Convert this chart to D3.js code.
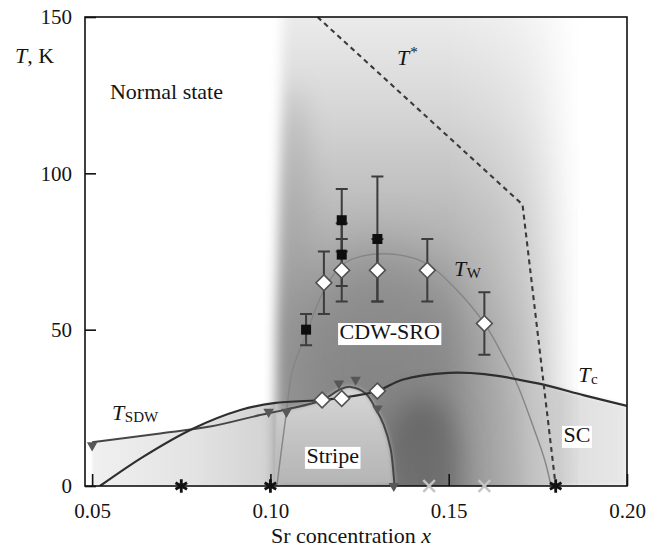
<!DOCTYPE html>
<html>
<head>
<meta charset="utf-8">
<script src="https://cdn.jsdelivr.net/npm/d3@7/dist/d3.min.js"></script>
<style>
  html, body { margin: 0; padding: 0; background: #fff; }
  svg { display: block; }
  svg text { font-family: "Liberation Serif", "Times New Roman", Times, serif; fill: #141414; }
</style>
</head>
<body>
<svg id="chart" width="657" height="547"></svg>
<script>
// ---- Axis ticks ----
const xTicks = [0.05, 0.10, 0.15, 0.20];
const yTicks = [0, 50, 100, 150];

// ---- Phase boundaries: [Sr concentration x, T in K] ----
const tStarLine = [[0.1132, 150], [0.1707, 90], [0.1800, 0]];
const tWCurve = [[0.1018, 0], [0.1043, 22], [0.1062, 37], [0.1101, 48.7], [0.1150, 62.6],
  [0.1200, 70.6], [0.1257, 73.5], [0.1355, 74], [0.1440, 71], [0.1520, 63], [0.1600, 52],
  [0.1655, 41], [0.1694, 32], [0.1740, 18], [0.1770, 8], [0.1787, 0]];
const tcCurve = [[0.0522, 0], [0.0644, 9.4], [0.0784, 18.4], [0.0916, 24.3], [0.1010, 26.5],
  [0.1145, 27.5], [0.1200, 28.2], [0.1300, 30.4], [0.1370, 34], [0.1500, 36.2], [0.1600, 35.8],
  [0.1750, 32.8], [0.1880, 29], [0.2000, 25.6]];
const tSdwCurve = [[0.0500, 14], [0.0691, 16.8], [0.0831, 19], [0.0971, 22.7], [0.1045, 24.5],
  [0.1145, 27.5], [0.1197, 31], [0.1225, 31.7], [0.1267, 29.6], [0.1295, 24.8], [0.1318, 19.5],
  [0.1337, 12], [0.1346, 3], [0.1348, 0]];

// ---- Measured points: [x, T, error] ----
const cdwSquares = [[0.110, 50, 5], [0.120, 85, 10], [0.120, 74, 10], [0.130, 79, 20]];
const tWDiamonds = [[0.115, 65, 10], [0.120, 69, 10], [0.130, 69, 10], [0.144, 69, 10], [0.160, 52, 10]];
const tcDiamonds = [[0.1145, 27.5], [0.120, 28], [0.130, 30.4]];
const sdwTriangles = [[0.050, 13], [0.0995, 23.7], [0.1045, 23.7], [0.1192, 32.8], [0.1239, 34],
  [0.130, 24.8], [0.1346, 0]];
const blackStars = [0.075, 0.100, 0.180];
const greyCrosses = [0.1445, 0.160];

// ---- Shaded regions ----
// left boundary of the pseudogap band, [x, T]; its right side fades out
const bandLeftEdge = [[0.1040, 170], [0.1026, 110], [0.1015, 50], [0.1012, -20]];
const bandFadeStops = [[0.150, 1], [0.162, 0.85], [0.170, 0.68], [0.176, 0.45], [0.181, 0.2], [0.186, 0]];
// superconducting dome fill beyond the band: [x, opacity]
const scFadeStops = [[0.172, 0], [0.181, 1], [0.200, 1]];
const stripeExtent = [0.1018, 0.136];

const W = 657, H = 547;
const margin = { top: 17, right: 30, bottom: 61, left: 85 };
const x = d3.scaleLinear().domain([0.048, 0.2]).range([margin.left, W - margin.right]);
const y = d3.scaleLinear().domain([0, 150]).range([H - margin.bottom, margin.top]);
const [x0, x1] = x.range();
const [y0, y1] = y.range();
const FONT = '"Liberation Serif", "Times New Roman", Times, serif';

const svg = d3.select('#chart');
const defs = svg.append('defs');

function clipRect(id, xa, xb) {
  defs.append('clipPath').attr('id', id).append('rect')
    .attr('x', xa).attr('y', y1).attr('width', xb - xa).attr('height', y0 - y1);
}
clipRect('plotClip', x0, x1);
clipRect('leftClip', x0, x(0.1014));
clipRect('stripeClip', x(stripeExtent[0]), x(stripeExtent[1]));

function blur(id, sx, sy) {
  defs.append('filter').attr('id', id)
    .attr('x', '-60%').attr('y', '-60%').attr('width', '220%').attr('height', '220%')
    .append('feGaussianBlur').attr('stdDeviation', `${sx} ${sy === undefined ? sx : sy}`);
}
blur('b1', 1.2); blur('b2', 2); blur('band', 6, 3); blur('soft', 12); blur('wide', 26); blur('mid', 14);

function linGrad(id, a, b, stops) {
  const g = defs.append('linearGradient').attr('id', id).attr('gradientUnits', 'userSpaceOnUse')
    .attr('x1', a[0]).attr('y1', a[1]).attr('x2', b[0]).attr('y2', b[1]);
  stops.forEach(([o, c, op]) => g.append('stop').attr('offset', o).attr('stop-color', c)
    .attr('stop-opacity', op === undefined ? 1 : op));
}
linGrad('bandGrad', [0, y1], [0, y0], [[0, '#ebebeb'], [0.2, '#d6d6d6'], [0.42, '#bababa'],
  [0.66, '#a2a2a2'], [0.85, '#969696'], [1, '#929292']]);
linGrad('leftGrad', [x(0.05), 0], [x(0.10), 0], [[0, '#f0f0f0'], [0.6, '#e2e2e2'], [1, '#d2d2d2']]);
linGrad('stripeGrad', [0, y(32)], [0, y(0)], [[0, '#d8d8d8'], [0.5, '#c4c4c4'], [1, '#b4b4b4']]);

const sx0 = scFadeStops[0][0], sx1 = scFadeStops[scFadeStops.length - 1][0];
linGrad('scGrad', [x(sx0), 0], [x(sx1), 0],
  scFadeStops.map(([v, op], i) => [(v - sx0) / (sx1 - sx0), i < 2 ? '#dcdcdc' : '#e8e8e8', op]));

// mask that fades the band towards the overdoped side
const fx0 = bandFadeStops[0][0], fx1 = bandFadeStops[bandFadeStops.length - 1][0];
linGrad('bandFade', [x(fx0), 0], [x(fx1), 0], bandFadeStops.map(([v, a]) => {
  const g = Math.round(255 * a);
  return [(v - fx0) / (fx1 - fx0), `rgb(${g},${g},${g})`];
}));

const curve = d3.curveCatmullRom.alpha(0.5);
const line = d3.line().x(d => x(d[0])).y(d => y(d[1])).curve(curve);
const poly = d3.line().x(d => x(d[0])).y(d => y(d[1]));
const areaUnder = d3.area().x(d => x(d[0])).y0(y(0)).y1(d => y(d[1])).curve(curve);

const bandMask = defs.append('mask').attr('id', 'bandMask').attr('maskUnits', 'userSpaceOnUse')
  .attr('x', x0 - 20).attr('y', y1 - 60).attr('width', x1 - x0 + 40).attr('height', y0 - y1 + 120);
const maskShape = [...bandLeftEdge, [0.195, -20], [0.195, 170]];
bandMask.append('path').datum(maskShape).attr('d', d => poly(d) + 'Z')
  .attr('fill', 'url(#bandFade)').attr('filter', 'url(#band)');

// ---- Background shading ----
const shade = svg.append('g').attr('clip-path', 'url(#plotClip)');

const left = shade.append('g').attr('clip-path', 'url(#leftClip)').append('g').attr('filter', 'url(#b1)');
left.append('path').datum(tSdwCurve).attr('d', areaUnder).attr('fill', 'url(#leftGrad)');
left.append('path').datum(tcCurve).attr('d', areaUnder).attr('fill', 'url(#leftGrad)');

shade.append('path').datum(tcCurve).attr('d', areaUnder)
  .attr('fill', 'url(#scGrad)').attr('filter', 'url(#b2)');

const band = shade.append('g').attr('mask', 'url(#bandMask)');
band.append('rect').attr('x', x0).attr('y', y1 - 40).attr('width', x1 - x0).attr('height', y0 - y1 + 80)
  .attr('fill', 'url(#bandGrad)');
// darker core of the charge-ordered region
band.append('ellipse').attr('cx', x(0.131)).attr('cy', y(42)).attr('rx', 90).attr('ry', 110)
  .attr('fill', '#6a6a6a').attr('opacity', 0.42).attr('filter', 'url(#wide)');
// darker strip along the left side of the band
band.append('ellipse').attr('cx', x(0.107)).attr('cy', y(80)).attr('rx', 16).attr('ry', 150)
  .attr('fill', '#8a8a8a').attr('opacity', 0.3).attr('filter', 'url(#soft)');
// dark pocket next to the stripe dome
band.append('ellipse').attr('cx', x(0.143)).attr('cy', y(6)).attr('rx', 40).attr('ry', 70)
  .attr('fill', '#4e4e4e').attr('opacity', 0.5).attr('filter', 'url(#mid)');

shade.append('g').attr('clip-path', 'url(#stripeClip)').append('path').datum(tSdwCurve)
  .attr('d', areaUnder).attr('fill', 'url(#stripeGrad)').attr('filter', 'url(#b2)');

// ---- Boundary lines ----
const lines = svg.append('g').attr('clip-path', 'url(#plotClip)').attr('fill', 'none');
lines.append('path').datum(tWCurve).attr('d', line).attr('stroke', '#858585').attr('stroke-width', 1.4);
lines.append('path').datum(tSdwCurve).attr('d', line).attr('stroke', '#464646').attr('stroke-width', 2);
lines.append('path').datum(tcCurve).attr('d', line).attr('stroke', '#2e2e2e').attr('stroke-width', 2.2);
lines.append('path').datum(tStarLine).attr('d', poly)
  .attr('stroke', '#3a3a3a').attr('stroke-width', 2.1).attr('stroke-dasharray', '5 4');

// ---- Error bars ----
const capW = 6;
const eb = svg.append('g').attr('stroke', '#3c3c3c').attr('stroke-width', 2).attr('fill', 'none');
[...tWDiamonds, ...cdwSquares].forEach(([cx, t, e]) => {
  const px = x(cx), top = y(t + e), bot = y(t - e);
  eb.append('path').attr('d', `M${px},${top}V${bot}M${px - capW},${top}H${px + capW}M${px - capW},${bot}H${px + capW}`);
});

// ---- Frame and axes ----
svg.append('rect').attr('x', x0).attr('y', y1).attr('width', x1 - x0).attr('height', y0 - y1)
  .attr('fill', 'none').attr('stroke', '#111').attr('stroke-width', 1.6);

const styleAxis = g => {
  g.select('.domain').remove();
  g.attr('font-size', 21).attr('font-family', FONT);
  g.selectAll('.tick line').attr('stroke', '#111').attr('stroke-width', 1.6);
  g.selectAll('.tick text').attr('fill', '#1a1a1a');
};
svg.append('g').attr('transform', `translate(${x0},0)`)
  .call(d3.axisLeft(y).tickValues(yTicks).tickSize(-11).tickPadding(13).tickFormat(d3.format('d')))
  .call(styleAxis);
svg.append('g').attr('transform', `translate(0,${y0})`)
  .call(d3.axisBottom(x).tickValues(xTicks).tickSize(-12).tickPadding(17).tickFormat(d3.format('.2f')))
  .call(styleAxis);

// ---- Markers ----
const marks = svg.append('g');
const sym = (type, size) => d3.symbol().type(type).size(size)();
marks.selectAll('.tri').data(sdwTriangles).join('path').attr('class', 'tri')
  .attr('d', sym(d3.symbolTriangle, 48))
  .attr('transform', d => `translate(${x(d[0])},${y(d[1])}) rotate(180)`)
  .attr('fill', '#575757');
marks.selectAll('.dia').data([...tWDiamonds, ...tcDiamonds]).join('path').attr('class', 'dia')
  .attr('d', sym(d3.symbolSquare, 125))
  .attr('transform', d => `translate(${x(d[0])},${y(d[1])}) rotate(45)`)
  .attr('fill', '#fff').attr('stroke', '#505050').attr('stroke-width', 1.6);
marks.selectAll('.sq').data(cdwSquares).join('path').attr('class', 'sq')
  .attr('d', sym(d3.symbolSquare, 100))
  .attr('transform', d => `translate(${x(d[0])},${y(d[1])})`)
  .attr('fill', '#0e0e0e');
marks.selectAll('.cross').data(greyCrosses).join('path').attr('class', 'cross')
  .attr('d', sym(d3.symbolTimes, 90))
  .attr('transform', d => `translate(${x(d)},${y(0)})`)
  .attr('fill', 'none').attr('stroke', '#c4c4c4').attr('stroke-width', 2.4);
marks.selectAll('.star').data(blackStars).join('path').attr('class', 'star')
  .attr('d', sym(d3.symbolAsterisk, 125))
  .attr('transform', d => `translate(${x(d)},${y(0)})`)
  .attr('fill', 'none').attr('stroke', '#111').attr('stroke-width', 2.8);

// ---- Text ----
const txt = svg.append('g').attr('font-size', 22).attr('font-family', FONT);
const addText = (parent, px, py) => parent.append('text').attr('x', px).attr('y', py).attr('fill', '#141414');

// axis titles
const yt = addText(txt, 15, 63);
yt.append('tspan').attr('font-style', 'italic').text('T');
yt.append('tspan').text(', K');
const xt = addText(txt, 351, 543).attr('text-anchor', 'middle');
xt.append('tspan').text('Sr concentration ');
xt.append('tspan').attr('font-style', 'italic').text('x');

// region labels
function boxed(str, cx, t) {
  const g = txt.append('g');
  const tx = addText(g, x(cx), y(t)).text(str);
  const w = tx.node().getComputedTextLength();
  g.insert('rect', 'text').attr('x', x(cx) - 1.5).attr('y', y(t) - 16)
    .attr('width', w + 3).attr('height', 22).attr('fill', '#fff');
}
addText(txt, x(0.0550), y(123.7)).text('Normal state');
boxed('CDW-SRO', 0.1194, 47.0);
boxed('Stripe', 0.1101, 7.4);
boxed('SC', 0.1822, 14.1);

// temperature labels with sub/superscripts
function tempLabel(cx, t, script, isSup) {
  const el = addText(txt, x(cx), y(t));
  el.append('tspan').attr('font-style', 'italic').text('T');
  el.append('tspan').attr('font-size', 15).attr('dx', isSup ? 1 : 0.5)
    .attr('dy', isSup ? -8 : 2).text(script);
}
tempLabel(0.1355, 134.6, '*', true);
tempLabel(0.1515, 67.2, 'W', false);
tempLabel(0.1863, 33.3, 'c', false);
tempLabel(0.0556, 21.1, 'SDW', false);
</script>
</body>
</html>
